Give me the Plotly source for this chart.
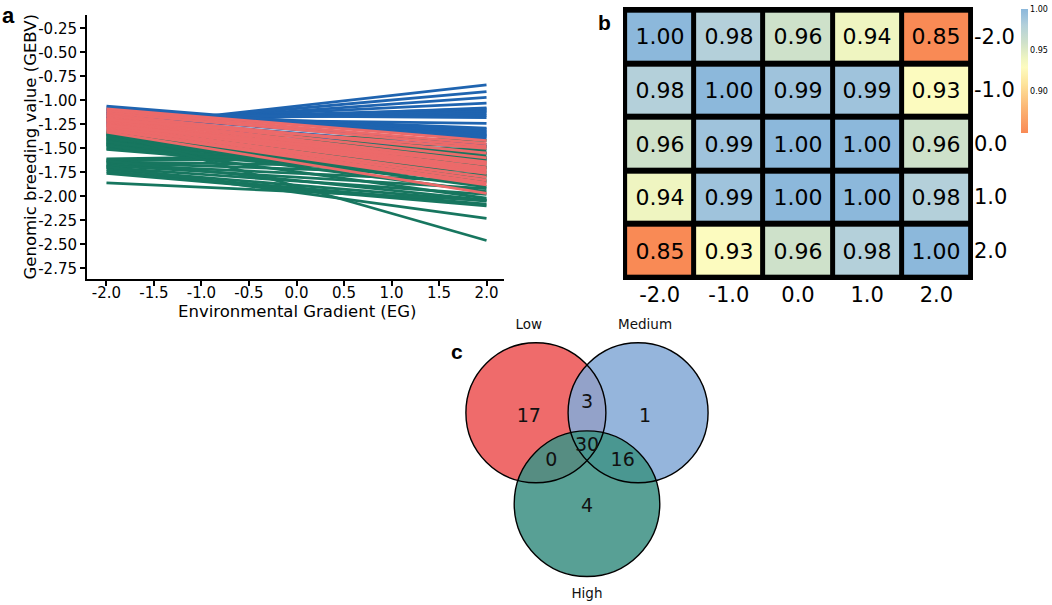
import plotly.graph_objects as go

W, H = 1052, 605

# ---- panel a: reaction norms, GEBV at EG = -2 and EG = 2 ----
eg_left, eg_right = -2.0, 2.0

blue_start = [-1.28, -1.26, -1.25, -1.22, -1.24, -1.20, -1.22, -1.18, -1.20, -1.17,
              -1.15, -1.19, -1.13, -1.16, -1.12, -1.14, -1.10, -1.12, -1.08, -1.06,
              -1.10, -1.15, -1.18, -1.21, -1.30, -1.36]
blue_end = [-0.84, -0.91, -0.97, -1.03, -1.08, -1.09, -1.11, -1.12, -1.14, -1.16,
            -1.18, -1.24, -1.29, -1.30, -1.32, -1.33, -1.35, -1.36, -1.37, -1.38,
            -1.40, -1.46, -1.50, -1.55, -1.60, -1.48]

red_start = [-1.09, -1.11, -1.13, -1.15, -1.16, -1.18, -1.19, -1.21, -1.22, -1.24,
             -1.25, -1.27, -1.28, -1.30, -1.31, -1.33, -1.20, -1.26]
red_end = [-1.42, -1.45, -1.48, -1.55, -1.60, -1.64, -1.67, -1.70, -1.72, -1.74,
           -1.76, -1.80, -1.83, -1.86, -1.88, -1.97, -1.50, -1.65]

green_start = [-1.32, -1.34, -1.35, -1.36, -1.37, -1.38, -1.40, -1.41, -1.42, -1.44,
               -1.45, -1.46, -1.48, -1.50, -1.51, -1.39, -1.43, -1.47, -1.61, -1.62,
               -1.64, -1.65, -1.67, -1.68, -1.70, -1.72, -1.74, -1.76, -1.63, -1.69,
               -1.86, -1.33]
green_end = [-1.42, -1.48, -1.52, -1.55, -1.58, -1.60, -1.62, -1.65, -1.68, -1.70,
             -1.72, -1.75, -1.78, -1.80, -1.83, -1.90, -1.95, -2.02, -1.55, -1.62,
             -1.70, -1.78, -1.85, -1.92, -1.98, -2.05, -2.08, -2.10, -2.04, -2.23,
             -2.04, -2.46]

x_ticks_a = [-2.0, -1.5, -1.0, -0.5, 0.0, 0.5, 1.0, 1.5, 2.0]
y_ticks_a = [-2.75, -2.50, -2.25, -2.00, -1.75, -1.50, -1.25, -1.00, -0.75, -0.50, -0.25]

# ---- panel b: correlation between environments ----
env_labels = ["-2.0", "-1.0", "0.0", "1.0", "2.0"]
corr = [
    [1.00, 0.98, 0.96, 0.94, 0.85],
    [0.98, 1.00, 0.99, 0.99, 0.93],
    [0.96, 0.99, 1.00, 1.00, 0.96],
    [0.94, 0.99, 1.00, 1.00, 0.98],
    [0.85, 0.93, 0.96, 0.98, 1.00],
]
cbar_ticks = [0.90, 0.95, 1.00]

# ---- panel c: venn counts ----
set_names = ["Low", "Medium", "High"]
region_names = ["Low only", "Low&Medium", "Medium only", "All", "Low&High", "Medium&High", "High only"]
region_counts = [17, 3, 1, 30, 0, 16, 4]

# venn layout (units = circle radius)
circle_xy = [(-0.73, 0.39), (0.73, 0.39), (0.0, -0.91)]
circle_r = [1.0, 1.0, 1.04]
circle_fill = ["#ef6b6b", "#85aad7", "#3f9285"]
circle_alpha = [1.0, 0.87, 0.87]
region_xy = [(-0.83, 0.33), (0.0, 0.53), (0.83, 0.33), (0.0, -0.09),
             (-0.51, -0.31), (0.51, -0.31), (0.0, -0.96)]
set_label_xy = [(-0.83, 1.64), (0.83, 1.64), (0.0, -2.21)]

FONT = "DejaVu Sans"


def segments(starts, ends):
    xs, ys = [], []
    for s, e in zip(starts, ends):
        xs += [eg_left, eg_right, None]
        ys += [s, e, None]
    return xs, ys


fig = go.Figure()

for starts, ends, col in [(blue_start, blue_end, "#1f64b0"),
                          (green_start, green_end, "#17765f"),
                          (red_start, red_end, "#ec6a6a")]:
    xs, ys = segments(starts, ends)
    fig.add_trace(go.Scatter(x=xs, y=ys, mode="lines", line=dict(color=col, width=2.8),
                             xaxis="x", yaxis="y", showlegend=False, hoverinfo="skip"))

# colorbar pads set to 0 so it does not push the right margin in
fig.add_trace(go.Heatmap(
    z=corr, x=list(range(5)), y=list(range(5)),
    zmin=0.85, zmax=1.0, xgap=5, ygap=6,
    colorscale=[[0.0, "#f98a55"], [0.2, "#fbb574"], [0.4, "#fde59d"], [0.53, "#fdfbbf"],
                [0.6, "#eff5c1"], [0.73, "#cfe1ca"], [0.87, "#b3d0da"], [0.93, "#a0c4dc"],
                [1.0, "#8cb8db"]],
    texttemplate="%{z:.2f}", textfont=dict(size=22, color="black", family=FONT),
    colorbar=dict(x=1021 / W, xanchor="left", y=1 - 71 / H, yanchor="middle",
                  len=124 / H, lenmode="fraction", thickness=7, outlinewidth=0,
                  xpad=0, ypad=0,
                  tickvals=cbar_ticks, ticktext=[f"{t:.2f}" for t in cbar_ticks],
                  ticks="", tickfont=dict(size=8, color="black", family=FONT)),
    xaxis="x2", yaxis="y2", hoverinfo="skip"))

# venn region counts and set labels
fig.add_trace(go.Scatter(
    x=[p[0] for p in region_xy], y=[p[1] for p in region_xy],
    text=[str(c) for c in region_counts], mode="text",
    textfont=dict(size=19, color="#111111", family=FONT),
    xaxis="x3", yaxis="y3", showlegend=False, hoverinfo="skip"))
fig.add_trace(go.Scatter(
    x=[p[0] for p in set_label_xy], y=[p[1] for p in set_label_xy],
    text=set_names, mode="text",
    textfont=dict(size=13.5, color="#111111", family=FONT),
    xaxis="x3", yaxis="y3", showlegend=False, hoverinfo="skip"))

shapes = [dict(type="rect", xref="x2 domain", yref="y2 domain", x0=0, x1=1, y0=0, y1=1,
               fillcolor="black", line_width=0, layer="below")]
for (cx, cy), r, col, a in zip(circle_xy, circle_r, circle_fill, circle_alpha):
    shapes.append(dict(type="circle", xref="x3", yref="y3", x0=cx - r, x1=cx + r,
                       y0=cy - r, y1=cy + r, fillcolor=col, opacity=a, line_width=0,
                       layer="below"))
for (cx, cy), r in zip(circle_xy, circle_r):
    shapes.append(dict(type="circle", xref="x3", yref="y3", x0=cx - r, x1=cx + r,
                       y0=cy - r, y1=cy + r, line=dict(color="black", width=1.4),
                       layer="below"))

axis_a = dict(showline=True, linecolor="black", linewidth=2, ticks="outside", ticklen=5,
              tickwidth=1.5, tickcolor="black", showgrid=False, zeroline=False,
              tickfont=dict(size=15, color="black", family=FONT))

fig.update_layout(
    width=W, height=H, margin=dict(l=0, r=0, t=0, b=0),
    paper_bgcolor="white", plot_bgcolor="rgba(0,0,0,0)",
    xaxis=dict(domain=[87 / W, 504 / W], range=[-2.205, 2.184], tickvals=x_ticks_a,
               ticktext=[f"{t:.1f}" for t in x_ticks_a], ticklabelstandoff=-6,
               anchor="y", **axis_a),
    yaxis=dict(domain=[1 - 279 / H, 1 - 15 / H], range=[-2.861, -0.111], tickvals=y_ticks_a,
               ticktext=[f"{t:.2f}" for t in y_ticks_a], anchor="x", **axis_a),
    xaxis2=dict(domain=[623 / W, 973 / W], range=[-0.53, 4.53], tickvals=list(range(5)),
                ticktext=env_labels, ticks="", showgrid=False, zeroline=False,
                tickfont=dict(size=21, color="black", family=FONT), anchor="y2"),
    yaxis2=dict(domain=[1 - 280 / H, 1 - 7 / H], range=[4.55, -0.55], tickvals=list(range(5)),
                ticktext=env_labels, side="right", ticks="", showgrid=False, zeroline=False,
                tickfont=dict(size=21, color="black", family=FONT), anchor="x2"),
    xaxis3=dict(domain=[440 / W, 740 / W], range=[-2.1, 2.186], visible=False, anchor="y3"),
    yaxis3=dict(domain=[0, 305 / H], range=[-2.357, 2.0], visible=False, anchor="x3"),
    shapes=shapes,
    annotations=[
        dict(text="Genomic breeding value (GEBV)", x=29.5 / W, y=1 - 147 / H, xref="paper",
             yref="paper", xanchor="center", yanchor="middle", textangle=-90,
             showarrow=False, font=dict(size=16.5, color="black", family=FONT)),
        dict(text="Environmental Gradient (EG)", x=296.5 / W, y=1 - 311 / H, xref="paper",
             yref="paper", xanchor="center", yanchor="middle", showarrow=False,
             font=dict(size=16.5, color="black", family=FONT)),
        dict(text="<b>a</b>", x=8.5 / W, y=1 - 15 / H, xref="paper", yref="paper",
             xanchor="center", yanchor="middle", showarrow=False,
             font=dict(size=22, color="black", family="Liberation Sans")),
        dict(text="<b>b</b>", x=604.5 / W, y=1 - 22 / H, xref="paper", yref="paper",
             xanchor="center", yanchor="middle", showarrow=False,
             font=dict(size=21, color="black", family="Liberation Sans")),
        dict(text="<b>c</b>", x=456.5 / W, y=1 - 351 / H, xref="paper", yref="paper",
             xanchor="center", yanchor="middle", showarrow=False,
             font=dict(size=21, color="black", family="Liberation Sans")),
    ],
)

# page body has a default 8px margin and may show scrollbars; drop both
fig.write_html(
    "out.html",
    config={"displayModeBar": False},
    post_script="document.body.style.margin='0';document.body.style.overflow='hidden';"
                "document.documentElement.style.overflow='hidden';",
)
